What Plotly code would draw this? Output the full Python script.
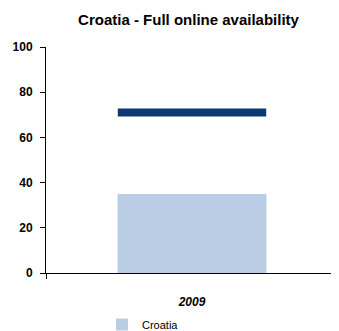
import plotly.graph_objects as go

categories = ["2009"]
croatia_values = [35]
average_values = [71]
y_ticks = [0, 20, 40, 60, 80, 100]

W, H = 331, 323  # page body adds an 8px offset

fig = go.Figure()
fig.add_trace(go.Bar(
    x=categories, y=croatia_values, name="Croatia",
    marker=dict(color="#B9CDE5", line=dict(width=0)),
    width=0.51,
))
fig.add_trace(go.Scatter(
    x=categories, y=average_values, mode="markers", showlegend=False,
    marker=dict(symbol="line-ew", size=106, color="#0B3A6E",
                line=dict(color="#0B3A6E", width=8)),
    hoverinfo="skip",
))

fig.update_layout(
    width=W, height=H,
    margin=dict(l=38, r=1, t=39, b=58, autoexpand=False),
    paper_bgcolor="white", plot_bgcolor="white",
    font=dict(family="Liberation Sans, Arial", color="black"),
    title=dict(text="<b>Croatia - Full online availability</b>", x=180.5 / W, xanchor="center",
               y=1 - 12 / H, yanchor="middle", font=dict(size=15)),
    showlegend=True,
    legend=dict(orientation="h", xref="container", yref="container",
                x=94 / W, y=1 - 302 / H, xanchor="left", yanchor="top",
                font=dict(size=11), itemwidth=30),
    bargap=0.49,
)
fig.update_yaxes(range=[0, 100], tickvals=y_ticks, showline=True, linecolor="black",
                 linewidth=1, ticks="outside", ticklen=5, tickcolor="black",
                 showgrid=False, zeroline=False, automargin=False,
                 ticklabelstandoff=5,
                 tickfont=dict(size=12, weight="bold"))
fig.update_xaxes(showline=True, linecolor="black", linewidth=1, ticks="outside",
                 ticklen=5, tickcolor="black", tickson="boundaries", showgrid=False,
                 automargin=False,
                 tickfont=dict(size=12, weight="bold", style="italic"),
                 ticklabelstandoff=18)

fig.write_html("out.html")
